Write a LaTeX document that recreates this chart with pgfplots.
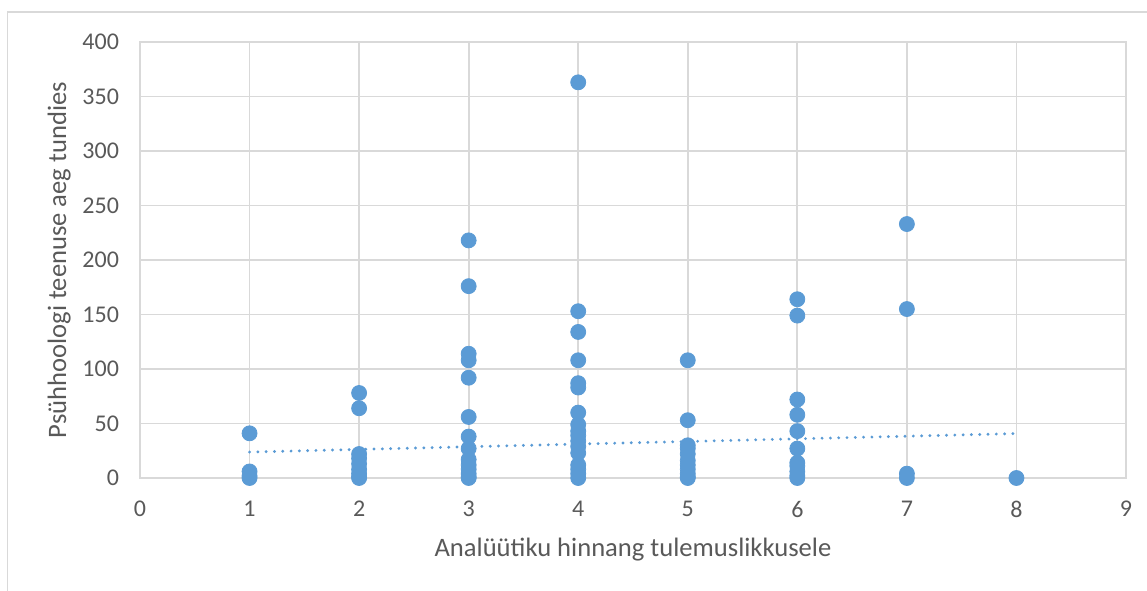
\documentclass[border=0pt]{standalone}
\usepackage{pgfplots}
\pgfplotsset{compat=1.18}
\usepackage{fontspec}
\setmainfont{Carlito}
\definecolor{pts}{HTML}{5B9BD5}
\definecolor{gridc}{HTML}{D9D9D9}
\definecolor{txt}{HTML}{595959}
\begin{document}
\begin{tikzpicture}
\useasboundingbox (-70pt,-56pt) rectangle (503.5pt,239pt);
% chart area frame
\draw[gridc, line width=0.9pt] (-66.25pt,-70pt) -- (-66.25pt,233pt) -- (520pt,233pt);
\begin{axis}[
  at={(0,0)}, anchor=south west,
  scale only axis, width=493pt, height=218pt,
  xmin=0, xmax=9, ymin=0, ymax=400,
  xtick={0,1,...,9}, ytick={0,50,...,400},
  grid=major,
  major grid style={gridc, line width=0.9pt},
  axis line style={gridc, line width=0.9pt},
  tick style={draw=none},
  /pgf/number format/assume math mode=true,
  ticklabel style={font=\fontsize{12}{14}\selectfont, text=txt},
  yticklabel style={xshift=-7pt},
  xticklabel style={yshift=-8pt},
  label style={font=\fontsize{13.3}{16}\selectfont, text=txt},
  xlabel={Analüütiku hinnang tulemuslikkusele},
  ylabel={Psühhoologi teenuse aeg tundies},
  xlabel style={at={(axis description cs:0.5,-0.179)}, anchor=base},
  ylabel style={at={(axis description cs:-0.075,0.5)}, anchor=base},
  clip=false,
]
\addplot[only marks, mark=*, mark size=3.75pt, mark options={fill=pts, draw=pts}] coordinates {
  (1,41) (1,6) (1,2) (1,0)
  (2,78) (2,64) (2,22) (2,18) (2,13) (2,8) (2,4) (2,1) (2,0)
  (3,218) (3,176) (3,114) (3,108) (3,92) (3,56) (3,38) (3,27) (3,17) (3,12) (3,8) (3,4) (3,1) (3,0)
  (4,363) (4,153) (4,134) (4,108) (4,87) (4,83) (4,60) (4,49) (4,43) (4,39) (4,34) (4,29) (4,23) (4,12) (4,8) (4,4) (4,0)
  (5,108) (5,53) (5,30) (5,27) (5,22) (5,16) (5,12) (5,8) (5,4) (5,1) (5,0)
  (6,164) (6,149) (6,72) (6,58) (6,43) (6,27) (6,14) (6,11) (6,6) (6,2) (6,0)
  (7,233) (7,155) (7,4) (7,0)
  (8,0)
};
% linear trend line
\addplot[pts, line width=1.6pt, line cap=round, dash pattern=on 0pt off 4.15pt] coordinates {(1,23.8) (8,40.8)};
\end{axis}
\end{tikzpicture}
\end{document}
